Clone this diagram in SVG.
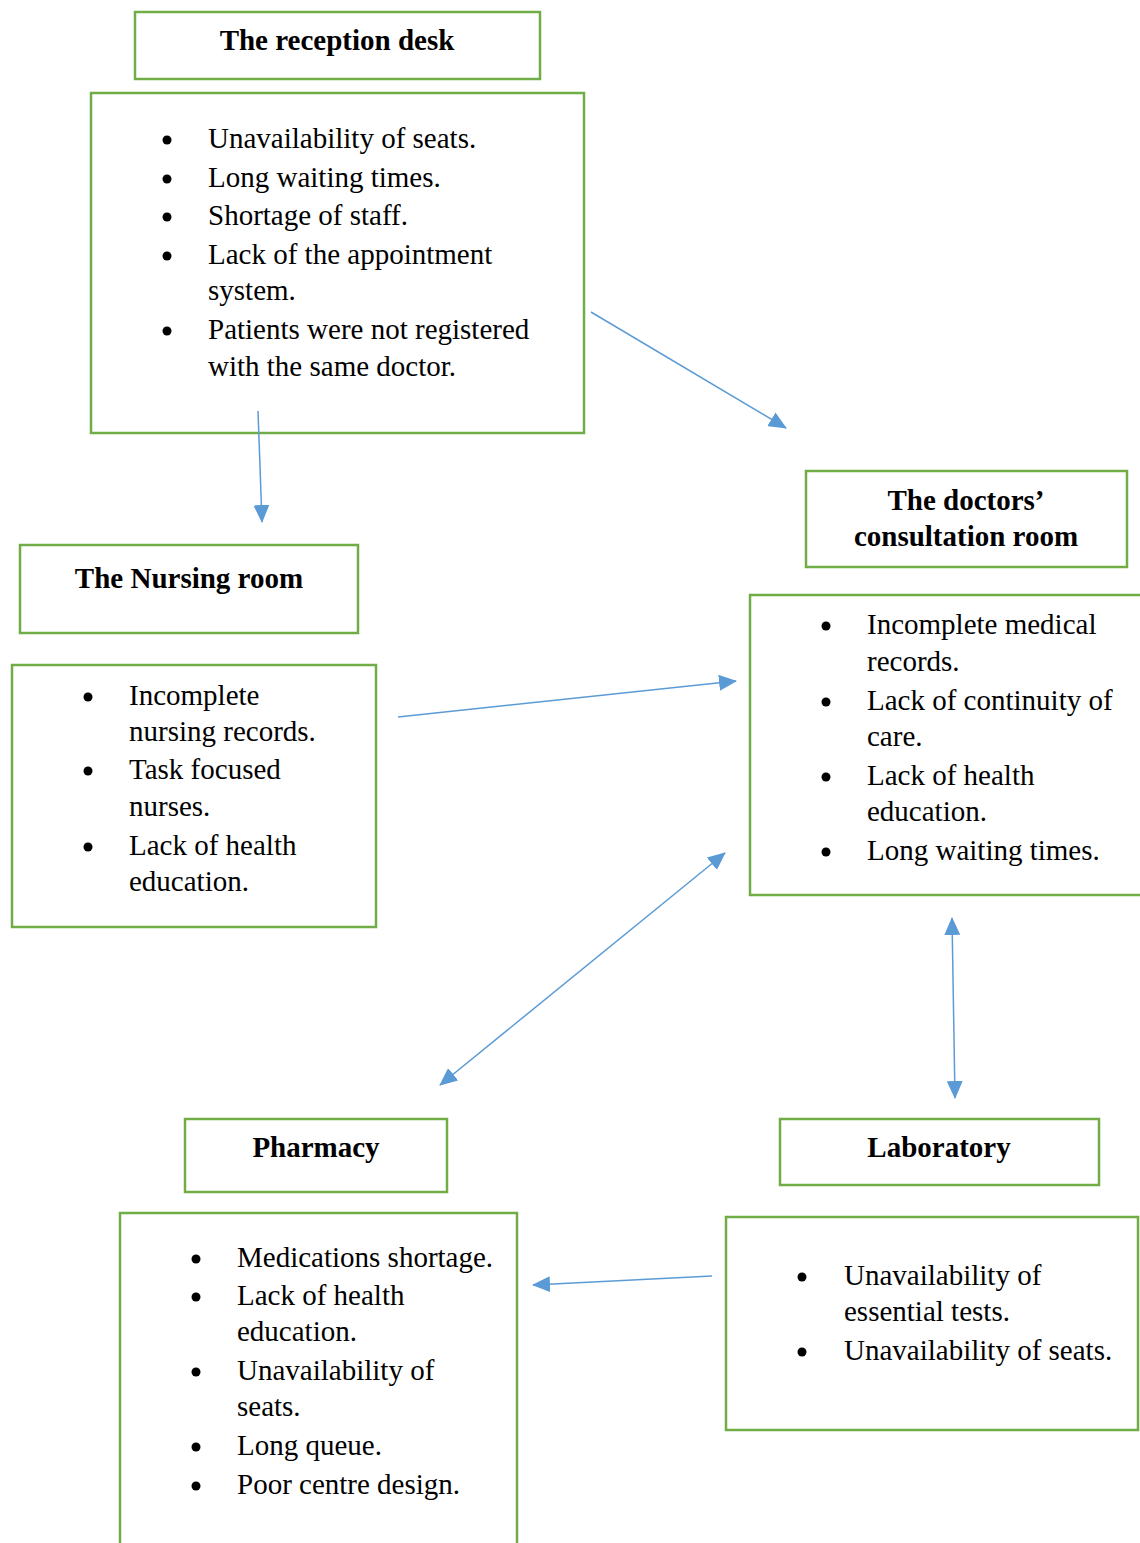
<svg xmlns="http://www.w3.org/2000/svg" width="1140" height="1543" viewBox="0 0 1140 1543">
<defs>
<style>
.box{fill:#fff;stroke:#70AD47;stroke-width:2.5}
.t{font-family:"Liberation Serif","Times New Roman",serif;font-size:29px;fill:#000}
.h{font-family:"Liberation Serif","Times New Roman",serif;font-size:29px;font-weight:bold;fill:#000;text-anchor:middle}
.b{fill:#000}
.c{stroke:#5B9BD5;stroke-width:1.5;fill:none}
</style>
<marker id="ah" markerUnits="userSpaceOnUse" markerWidth="18" markerHeight="16" refX="17" refY="8" orient="auto-start-reverse" viewBox="0 0 18 16">
<path d="M0,0 L18,8 L0,16 Z" fill="#5B9BD5"/>
</marker>
</defs>
<rect width="1140" height="1543" fill="#fff"/>

<g id="reception-title">
<rect class="box" x="135" y="12" width="405" height="67"/>
<text class="h" x="337" y="50">The reception desk</text>
</g>
<g id="reception-content">
<rect class="box" x="91" y="93" width="493" height="340"/>
<circle class="b" cx="167" cy="140" r="4.5"/><text class="t" x="208" y="148">Unavailability of seats.</text>
<circle class="b" cx="167" cy="179" r="4.5"/><text class="t" x="208" y="187">Long waiting times.</text>
<circle class="b" cx="167" cy="217" r="4.5"/><text class="t" x="208" y="225">Shortage of staff.</text>
<circle class="b" cx="167" cy="256" r="4.5"/><text class="t" x="208" y="264">Lack of the appointment</text>
<text class="t" x="208" y="300">system.</text>
<circle class="b" cx="167" cy="331" r="4.5"/><text class="t" x="208" y="339">Patients were not registered</text>
<text class="t" x="208" y="376">with the same doctor.</text>
</g>

<g id="nursing-title">
<rect class="box" x="20" y="545" width="338" height="88"/>
<text class="h" x="189" y="588">The Nursing room</text>
</g>
<g id="nursing-content">
<rect class="box" x="12" y="665" width="364" height="262"/>
<circle class="b" cx="88" cy="697" r="4.5"/><text class="t" x="129" y="705">Incomplete</text>
<text class="t" x="129" y="741">nursing records.</text>
<circle class="b" cx="88" cy="771" r="4.5"/><text class="t" x="129" y="779">Task focused</text>
<text class="t" x="129" y="816">nurses.</text>
<circle class="b" cx="88" cy="847" r="4.5"/><text class="t" x="129" y="855">Lack of health</text>
<text class="t" x="129" y="891">education.</text>
</g>

<g id="doctors-title">
<rect class="box" x="806" y="471" width="321" height="96"/>
<text class="h" x="966" y="510">The doctors’</text>
<text class="h" x="966" y="546">consultation room</text>
</g>
<g id="doctors-content">
<rect class="box" x="750" y="595" width="400" height="300"/>
<circle class="b" cx="826" cy="626" r="4.5"/><text class="t" x="867" y="634">Incomplete medical</text>
<text class="t" x="867" y="671">records.</text>
<circle class="b" cx="826" cy="702" r="4.5"/><text class="t" x="867" y="710">Lack of continuity of</text>
<text class="t" x="867" y="746">care.</text>
<circle class="b" cx="826" cy="777" r="4.5"/><text class="t" x="867" y="785">Lack of health</text>
<text class="t" x="867" y="821">education.</text>
<circle class="b" cx="826" cy="852" r="4.5"/><text class="t" x="867" y="860">Long waiting times.</text>
</g>

<g id="pharmacy-title">
<rect class="box" x="185" y="1119" width="262" height="73"/>
<text class="h" x="316" y="1157">Pharmacy</text>
</g>
<g id="pharmacy-content">
<rect class="box" x="120" y="1213" width="397" height="345"/>
<circle class="b" cx="196" cy="1259" r="4.5"/><text class="t" x="237" y="1267">Medications shortage.</text>
<circle class="b" cx="196" cy="1297" r="4.5"/><text class="t" x="237" y="1305">Lack of health</text>
<text class="t" x="237" y="1341">education.</text>
<circle class="b" cx="196" cy="1372" r="4.5"/><text class="t" x="237" y="1380">Unavailability of</text>
<text class="t" x="237" y="1416">seats.</text>
<circle class="b" cx="196" cy="1447" r="4.5"/><text class="t" x="237" y="1455">Long queue.</text>
<circle class="b" cx="196" cy="1486" r="4.5"/><text class="t" x="237" y="1494">Poor centre design.</text>
</g>

<g id="laboratory-title">
<rect class="box" x="780" y="1119" width="319" height="66"/>
<text class="h" x="939" y="1157">Laboratory</text>
</g>
<g id="laboratory-content">
<rect class="box" x="726" y="1217" width="412" height="213"/>
<circle class="b" cx="802" cy="1277" r="4.5"/><text class="t" x="844" y="1285">Unavailability of</text>
<text class="t" x="844" y="1321">essential tests.</text>
<circle class="b" cx="802" cy="1352" r="4.5"/><text class="t" x="844" y="1360">Unavailability of seats.</text>
</g>

<g id="connectors">
<line class="c" x1="591" y1="312" x2="786" y2="428" marker-end="url(#ah)"/>
<line class="c" x1="258" y1="411" x2="262" y2="522" marker-end="url(#ah)"/>
<line class="c" x1="398" y1="717" x2="736" y2="681" marker-end="url(#ah)"/>
<line class="c" x1="440" y1="1085" x2="725" y2="853" marker-start="url(#ah)" marker-end="url(#ah)"/>
<line class="c" x1="952" y1="918" x2="955" y2="1098" marker-start="url(#ah)" marker-end="url(#ah)"/>
<line class="c" x1="712" y1="1276" x2="533" y2="1285" marker-end="url(#ah)"/>
</g>
</svg>
